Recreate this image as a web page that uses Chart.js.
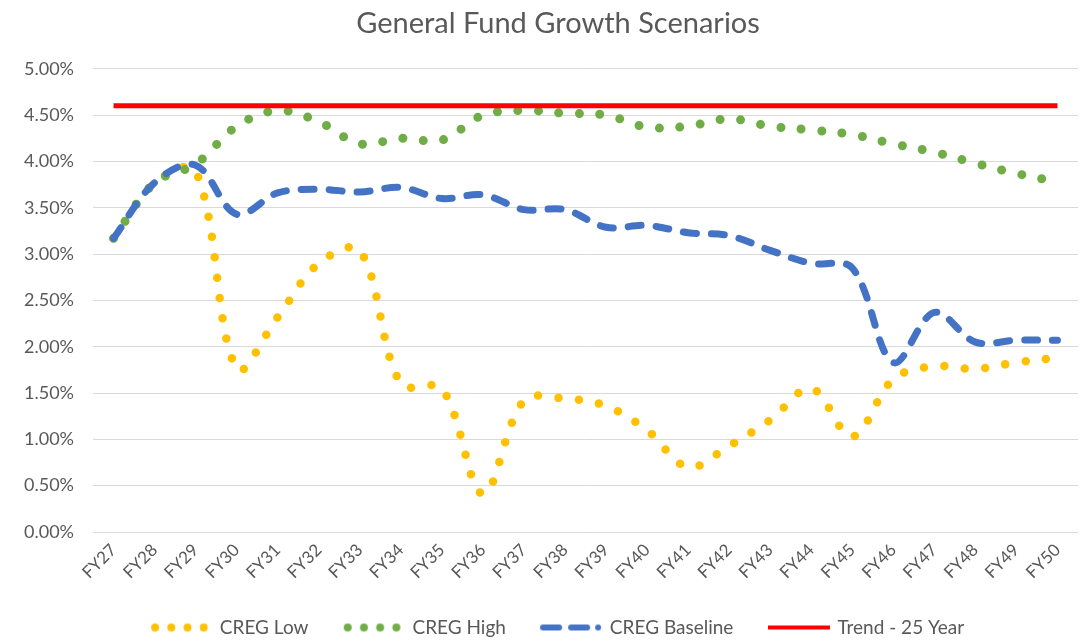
<!DOCTYPE html>
<html>
<head>
<meta charset="utf-8">
<title>General Fund Growth Scenarios</title>
<script src="https://cdn.jsdelivr.net/npm/chart.js@4.4.1/dist/chart.umd.min.js"></script>
<style>
  html, body { margin: 0; padding: 0; background: #fff; }
  #wrap { width: 1089px; height: 643px; }
</style>
</head>
<body>
<div id="wrap"><canvas id="growthChart" width="1089" height="643"></canvas></div>
<script>
// --- Data (percent) ---
const fiscalYears = ["FY27", "FY28", "FY29", "FY30", "FY31", "FY32", "FY33", "FY34", "FY35", "FY36", "FY37", "FY38",
                     "FY39", "FY40", "FY41", "FY42", "FY43", "FY44", "FY45", "FY46", "FY47", "FY48", "FY49", "FY50"];
const cregLow = [3.17, 3.77, 3.90, 1.76, 2.32, 2.90, 3.04, 1.60, 1.55, 0.41, 1.42, 1.44,
                 1.36, 1.10, 0.70, 0.93, 1.21, 1.55, 1.03, 1.65, 1.79, 1.76, 1.83, 1.88];
const cregHigh = [3.17, 3.77, 3.97, 4.38, 4.55, 4.43, 4.19, 4.25, 4.23, 4.50, 4.55, 4.52,
                  4.50, 4.37, 4.38, 4.46, 4.38, 4.34, 4.29, 4.19, 4.10, 3.98, 3.87, 3.78];
const cregBaseline = [3.17, 3.77, 3.96, 3.43, 3.66, 3.70, 3.67, 3.72, 3.60, 3.64, 3.48, 3.48,
                      3.29, 3.31, 3.23, 3.20, 3.04, 2.90, 2.85, 1.83, 2.37, 2.05, 2.07, 2.07];
const trend25Year = [4.60, 4.60, 4.60, 4.60, 4.60, 4.60, 4.60, 4.60, 4.60, 4.60, 4.60, 4.60,
                     4.60, 4.60, 4.60, 4.60, 4.60, 4.60, 4.60, 4.60, 4.60, 4.60, 4.60, 4.60];
const yTicks = [0, 0.5, 1, 1.5, 2, 2.5, 3, 3.5, 4, 4.5, 5];

// --- Colours ---
const TEXT_GREY = "#595959";
const GRID_GREY = "#D9D9D9";
const YELLOW = "#FFC000";
const GREEN = "#70AD47";
const BLUE = "#4472C4";
const RED = "#FF0000";

// --- Legend sample pictures (Excel style line samples) ---
function makeSample(kind, color) {
  const c = document.createElement("canvas");
  c.width = 62;
  c.height = 12;
  const g = c.getContext("2d");
  g.fillStyle = color;
  g.strokeStyle = color;
  if (kind === "dots") {
    for (let i = 0; i < 4; i++) {
      g.beginPath();
      g.arc(5 + i * 16.2, 6, 4, 0, Math.PI * 2);
      g.fill();
    }
  } else if (kind === "dash") {
    g.lineWidth = 6;
    g.lineCap = "round";
    g.beginPath();
    g.moveTo(3, 6); g.lineTo(19, 6);
    g.moveTo(31, 6); g.lineTo(47, 6);
    g.stroke();
    g.beginPath();
    g.arc(58, 6, 3, 0, Math.PI * 2);
    g.fill();
  } else {
    g.fillRect(0, 4, 62, 4);
  }
  return c;
}
const legendSamples = [
  makeSample("dots", YELLOW),
  makeSample("dots", GREEN),
  makeSample("dash", BLUE),
  makeSample("solid", RED)
];

Chart.defaults.font.family = "Lato, 'Open Sans', sans-serif";
Chart.defaults.color = TEXT_GREY;

const LEGEND_FONT = 19;

const ctx = document.getElementById("growthChart").getContext("2d");
new Chart(ctx, {
  type: "line",
  data: {
    labels: fiscalYears,
    datasets: [
      {
        label: "CREG Low",
        data: cregLow,
        borderColor: YELLOW,
        backgroundColor: YELLOW,
        borderWidth: 8.5,
        borderDash: [0, 20.5],
        borderCapStyle: "round",
        tension: 0.35,
        pointRadius: 0,
        order: 4
      },
      {
        label: "CREG High",
        data: cregHigh,
        borderColor: GREEN,
        backgroundColor: GREEN,
        borderWidth: 9,
        borderDash: [0, 20.5],
        borderCapStyle: "round",
        tension: 0.35,
        pointRadius: 0,
        order: 3
      },
      {
        label: "CREG Baseline",
        data: cregBaseline,
        borderColor: BLUE,
        backgroundColor: BLUE,
        borderWidth: 7,
        borderDash: [13, 15],
        borderCapStyle: "round",
        tension: 0.35,
        pointRadius: 0,
        order: 2
      },
      {
        label: "Trend - 25 Year",
        data: trend25Year,
        borderColor: RED,
        backgroundColor: RED,
        borderWidth: 5,
        tension: 0,
        pointRadius: 0,
        order: 1
      }
    ]
  },
  options: {
    responsive: false,
    animation: false,
    // right padding is negative so title + legend centre where Excel put them;
    // the empty right axis below gives the plot its right margin back
    layout: { padding: { left: 20, right: -7, top: 0, bottom: -4 } },
    plugins: {
      title: {
        display: true,
        text: "General Fund Growth Scenarios",
        color: TEXT_GREY,
        font: { size: 29, weight: "normal" },
        padding: { top: 6, bottom: 28 }
      },
      legend: {
        display: true,
        position: "bottom",
        labels: {
          color: TEXT_GREY,
          font: { size: LEGEND_FONT },
          usePointStyle: true,
          pointStyleWidth: 68 - LEGEND_FONT / 2,
          padding: 36,
          generateLabels: function(chart) {
            return chart.data.datasets.map((ds, i) => ({
              text: ds.label,
              pointStyle: legendSamples[i],
              fontColor: TEXT_GREY,
              fillStyle: "transparent",
              strokeStyle: "transparent",
              lineWidth: 0,
              hidden: false,
              datasetIndex: i
            }));
          }
        }
      },
      tooltip: { enabled: false }
    },
    scales: {
      x: {
        offset: true,
        grid: { display: false, drawTicks: false },
        border: { display: false },
        ticks: {
          autoSkip: false,
          minRotation: 45,
          maxRotation: 45,
          padding: 8,
          color: TEXT_GREY,
          font: { size: 17 }
        },
        afterFit: function(scale) { scale.height = 50; }
      },
      y: {
        min: yTicks[0],
        max: yTicks[yTicks.length - 1],
        afterBuildTicks: function(scale) {
          scale.ticks = yTicks.map(v => ({ value: v }));
        },
        grid: { color: GRID_GREY, lineWidth: 1, drawTicks: false },
        border: { display: false },
        ticks: {
          padding: 19,
          color: TEXT_GREY,
          font: { size: 18 },
          callback: function(value) { return Number(value).toFixed(2) + "%"; }
        },
        afterFit: function(scale) { scale.width = 73; }
      },
      spacer: {
        type: "linear",
        position: "right",
        grid: { display: false, drawTicks: false },
        border: { display: false },
        ticks: { display: false },
        afterFit: function(scale) { scale.width = 18; }
      }
    }
  }
});
</script>
</body>
</html>
